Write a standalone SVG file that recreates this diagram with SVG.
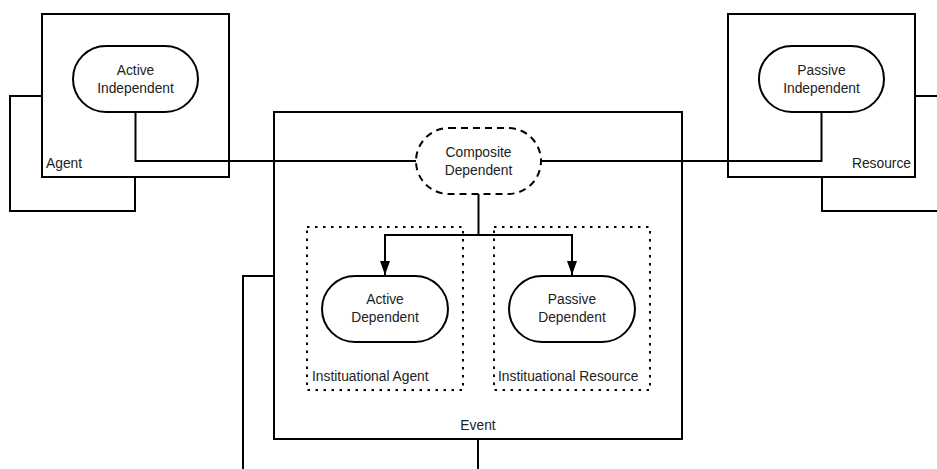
<svg xmlns="http://www.w3.org/2000/svg" width="937" height="469" viewBox="0 0 937 469">
<style>
.box{fill:none;stroke:#000;stroke-width:2}
.pill{fill:#fff;stroke:#000;stroke-width:2}
.dash{fill:#fff;stroke:#000;stroke-width:2;stroke-dasharray:7 5}
.dot{fill:none;stroke:#000;stroke-width:2;stroke-dasharray:2.5 5.5}
.ln{fill:none;stroke:#000;stroke-width:2}
text{font-family:"Liberation Sans",Arial,sans-serif;font-size:13.8px;fill:#222}
.c{text-anchor:middle}
</style>
<defs>
<marker id="arr" markerWidth="14" markerHeight="10" refX="14" refY="5" orient="auto" markerUnits="userSpaceOnUse" viewBox="0 0 14 10">
<path d="M0,0 L14,5 L0,10 Z" fill="#000"/>
</marker>
</defs>
<rect width="937" height="469" fill="#fff"/>
<g id="connectors">
<path class="ln" d="M42,96 H10 V211 H135 V177"/>
<path class="ln" d="M915,96 H947 V211 H822 V177"/>
<path class="ln" d="M274,276 H243 V470"/>
<path class="ln" d="M478,439 V470"/>
<path class="ln" d="M135.5,112 V161 H416"/>
<path class="ln" d="M821.5,112 V161 H541"/>
<path class="ln" d="M478.5,194 V235"/>
<path class="ln" d="M384,235 H573"/>
<path class="ln" d="M385,234 V275" marker-end="url(#arr)"/>
<path class="ln" d="M572,234 V275" marker-end="url(#arr)"/>
</g>
<g id="agent">
<rect class="box" x="42" y="14" width="187" height="163"/>
<text x="46" y="168">Agent</text>
</g>
<g id="resource">
<rect class="box" x="728" y="14" width="187" height="163"/>
<text x="911" y="168" text-anchor="end">Resource</text>
</g>
<g id="event">
<rect class="box" x="274" y="112" width="408" height="327"/>
<text class="c" x="478" y="430">Event</text>
</g>
<g id="inst-agent">
<rect class="dot" x="307" y="227" width="156" height="163"/>
<text x="312" y="381">Instituational Agent</text>
</g>
<g id="inst-resource">
<rect class="dot" x="494" y="227" width="156" height="163"/>
<text x="498" y="381">Instituational Resource</text>
</g>
<g id="active-independent">
<rect class="pill" x="73" y="46" width="125" height="66" rx="33"/>
<text class="c" x="135.5" y="74.5">Active</text>
<text class="c" x="135.5" y="92.5">Independent</text>
</g>
<g id="passive-independent">
<rect class="pill" x="759" y="46" width="125" height="66" rx="33"/>
<text class="c" x="821.5" y="74.5">Passive</text>
<text class="c" x="821.5" y="92.5">Independent</text>
</g>
<g id="composite-dependent">
<rect class="dash" x="416" y="128" width="125" height="66" rx="33"/>
<text class="c" x="478.5" y="156.5">Composite</text>
<text class="c" x="478.5" y="174.5">Dependent</text>
</g>
<g id="active-dependent">
<rect class="pill" x="322" y="276" width="126" height="66" rx="33"/>
<text class="c" x="385" y="304">Active</text>
<text class="c" x="385" y="322">Dependent</text>
</g>
<g id="passive-dependent">
<rect class="pill" x="509" y="276" width="126" height="66" rx="33"/>
<text class="c" x="572" y="304">Passive</text>
<text class="c" x="572" y="322">Dependent</text>
</g>
</svg>
